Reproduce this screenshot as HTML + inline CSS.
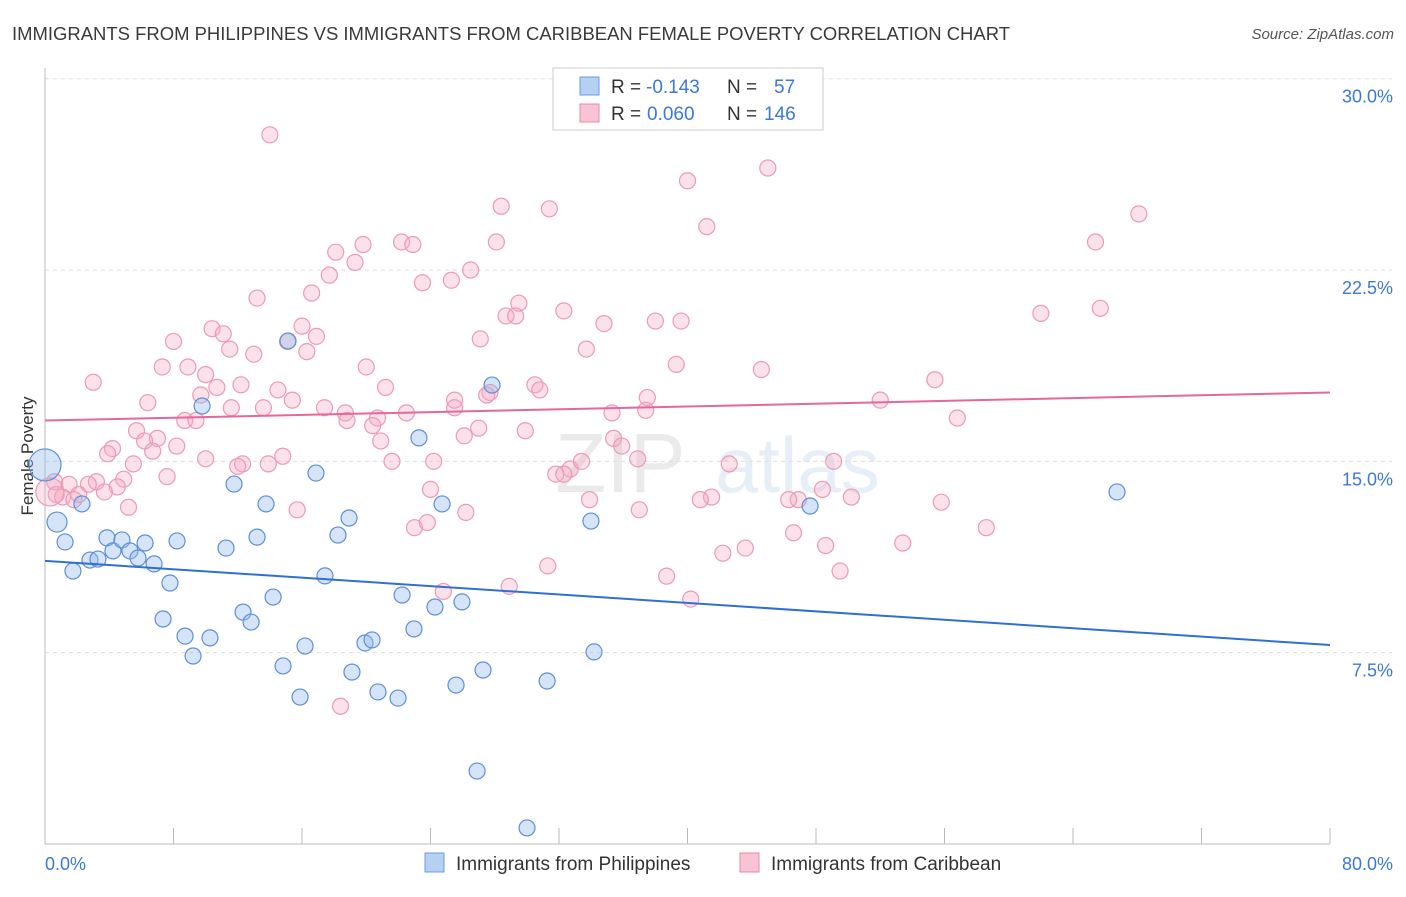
<!DOCTYPE html>
<html><head><meta charset="utf-8">
<style>
body{margin:0;background:#fff;font-family:"Liberation Sans",sans-serif;}
svg text{font-family:"Liberation Sans",sans-serif;}
</style></head>
<body>
<svg id="chart" width="1406" height="892" xmlns="http://www.w3.org/2000/svg">
<text x="12" y="40" font-size="18.5" fill="#3a3a3a" textLength="998" lengthAdjust="spacingAndGlyphs">IMMIGRANTS FROM PHILIPPINES VS IMMIGRANTS FROM CARIBBEAN FEMALE POVERTY CORRELATION CHART</text>
<text x="1394" y="39" font-size="15" fill="#555" text-anchor="end" font-style="italic">Source: ZipAtlas.com</text>
<text transform="translate(33,456) rotate(-90)" font-size="17" fill="#333" text-anchor="middle">Female Poverty</text>
<g opacity="0.13">
<text x="555" y="492" font-size="84" font-family="Liberation Serif" fill="#666">ZIP</text>
<text x="715" y="492" font-size="78" fill="#4a7fd0">atlas</text>
</g>
<g id="grid"></g>
<g id="axes"></g>
<g id="pinkPts"></g>
<g id="bluePts"></g>
<g id="trends"></g>
<g>
<rect x="553" y="68" width="270" height="62" fill="#fff" stroke="#ccc"/>
<rect x="580" y="77" width="19" height="18" fill="#b6d0f2" stroke="#6a9be0"/>
<rect x="580" y="104" width="19" height="18" fill="#f8c4d4" stroke="#e98aa8"/>
<text x="611" y="93" font-size="19" fill="#333">R =</text>
<text x="646" y="93" font-size="19" fill="#3b78d8">-0.143</text>
<text x="727" y="93" font-size="19" fill="#333">N =</text>
<text x="774" y="93" font-size="19" fill="#3b78d8">57</text>
<text x="611" y="120" font-size="19" fill="#333">R =</text>
<text x="647" y="120" font-size="19" fill="#3b78d8">0.060</text>
<text x="727" y="120" font-size="19" fill="#333">N =</text>
<text x="764" y="120" font-size="19" fill="#3b78d8">146</text>
</g>
<g>
<rect x="425" y="853" width="19" height="19" fill="#b6d0f2" stroke="#6a9be0"/>
<text x="456" y="870" font-size="19" fill="#333">Immigrants from Philippines</text>
<rect x="740" y="853" width="19" height="19" fill="#f8c4d4" stroke="#e98aa8"/>
<text x="771" y="870" font-size="19" fill="#333">Immigrants from Caribbean</text>
</g>
</svg>
<script>
const yTicks=[7.5,15,22.5,30];
const yTickLabels=["7.5%","15.0%","22.5%","30.0%"];
const xTicks=[0,8,16,24,32,40,48,56,64,72,80];
const xEndLabels=["0.0%","80.0%"];
const blueX=[0,0.75,1.25,1.74,2.3,2.8,3.3,3.86,4.23,4.79,5.29,5.79,6.23,6.79,7.35,7.78,8.22,8.72,9.22,9.78,10.27,11.27,11.77,12.33,12.83,13.2,13.76,14.2,14.82,15.13,15.88,16.19,16.87,17.43,18.24,18.93,19.11,19.92,20.36,20.73,21.98,22.23,22.97,23.28,24.28,24.72,25.59,25.96,26.9,27.27,27.83,30.01,31.26,33.99,34.18,47.63,66.74];
const blueY=[14.86,12.62,11.84,10.7,13.33,11.13,11.17,12,11.49,11.92,11.49,11.21,11.8,10.98,8.82,10.23,11.88,8.15,7.37,17.17,8.08,11.6,14.11,9.09,8.7,12.03,13.33,9.68,6.98,19.72,5.76,7.76,14.54,10.51,12.11,12.78,6.74,7.88,8,5.96,5.72,9.76,8.43,15.92,9.29,13.33,6.23,9.49,2.86,6.82,17.99,0.63,6.39,12.66,7.53,13.25,13.8];
const pinkX=[14.0,45.0,40.0,28.4,31.4,68.1,41.2,65.4,28.1,19.8,22.2,22.9,18.1,19.3,26.5,17.7,23.5,25.3,16.6,13.2,29.5,28.7,29.3,32.3,62.0,65.7,34.8,38.0,39.6,16.0,10.4,11.1,16.9,8.0,27.1,15.1,11.5,16.3,13.0,33.7,7.3,20.0,39.3,44.6,8.9,10.0,3.0,55.4,12.2,21.2,30.5,10.7,14.5,30.8,9.7,27.7,27.5,15.4,52.0,37.5,25.5,6.4,25.5,13.6,11.6,35.3,37.4,17.4,18.7,22.5,18.8,20.7,8.7,9.4,20.4,27.0,56.8,5.7,29.9,7.0,6.2,20.9,26.1,35.4,35.9,8.2,4.2,3.9,6.7,10.0,14.8,13.9,12.3,21.6,24.2,36.9,42.6,49.1,5.5,12.0,32.7,31.8,33.4,7.6,3.2,0.6,1.5,2.7,4.9,4.5,3.7,0.7,2.1,1.1,1.8,24.0,41.5,40.8,46.9,50.2,48.4,46.3,55.8,33.9,5.2,15.7,26.2,37.0,23.0,23.8,46.6,58.6,53.4,43.6,42.2,48.6,31.3,49.5,38.7,28.9,24.8,40.2,18.4,32.3,0.3];
const pinkY=[27.8,26.5,26.0,25.0,24.9,24.7,24.2,23.6,23.6,23.5,23.6,23.5,23.2,22.8,22.5,22.3,22.0,22.1,21.6,21.4,21.2,20.7,20.7,20.9,20.8,21.0,20.4,20.5,20.5,20.3,20.2,20.0,19.9,19.7,19.8,19.7,19.4,19.3,19.2,19.4,18.7,18.7,18.8,18.6,18.7,18.4,18.1,18.2,18.0,17.9,18.0,17.9,17.8,17.8,17.6,17.7,17.6,17.4,17.4,17.5,17.4,17.3,17.1,17.1,17.1,16.9,17.0,17.1,16.9,16.9,16.6,16.7,16.6,16.6,16.4,16.3,16.7,16.2,16.2,15.9,15.8,15.8,16.0,15.9,15.6,15.6,15.5,15.3,15.4,15.1,15.2,14.9,14.9,15.0,15.0,15.1,14.9,15.0,14.9,14.8,14.7,14.5,15.0,14.4,14.2,14.2,14.1,14.1,14.3,14.0,13.8,13.7,13.7,13.6,13.5,13.9,13.6,13.5,13.5,13.6,13.9,13.5,13.4,13.5,13.2,13.1,13.0,13.1,12.4,12.6,12.2,12.4,11.8,11.6,11.4,11.7,10.9,10.7,10.5,10.1,9.9,9.6,5.4,14.5,13.8];
const blueTrend=[11.1,7.8];
const pinkTrend=[16.6,17.7];
const NS="http://www.w3.org/2000/svg";
const X0=45,X1=1330,Y0=844,PX=25.51;
function sx(v){return X0+(v/80)*(X1-X0);}
function sy(v){return Y0-v*PX;}
function mk(tag,attrs,parent){const e=document.createElementNS(NS,tag);for(const k in attrs)e.setAttribute(k,attrs[k]);parent.appendChild(e);return e;}
const grid=document.getElementById('grid'),axes=document.getElementById('axes');
yTicks.forEach((t,i)=>{
 const l=mk('line',{x1:X0,x2:1392,y1:sy(t),y2:sy(t),stroke:'#ddd','stroke-dasharray':'4,4'},grid);
 
 
 const tx=mk('text',{x:1393,y:sy(t)+24,'font-size':18,fill:'#3b78d8','text-anchor':'end'},axes);
 tx.textContent=yTickLabels[i];
 
 
});
const ax=mk('line',{x1:X0,x2:X0,y1:68,y2:Y0,stroke:'#bbb'},axes);


const bx=mk('line',{x1:X0,x2:X1,y1:Y0,y2:Y0,stroke:'#bbb'},axes);


xTicks.forEach(t=>{
 const l=mk('line',{x1:sx(t),x2:sx(t),y1:Y0-16,y2:Y0,stroke:'#bbb'},axes);
 
 
});
const xl0=mk('text',{x:45,y:870,'font-size':18,fill:'#3b78d8'},axes);xl0.textContent=xEndLabels[0];


const xl1=mk('text',{x:1393,y:870,'font-size':18,fill:'#3b78d8','text-anchor':'end'},axes);xl1.textContent=xEndLabels[1];


const pg=document.getElementById('pinkPts');
pinkX.forEach((v,i)=>{
 const c=mk('circle',{cx:sx(v),cy:sy(pinkY[i]),r:(i===pinkX.length-1?14:8),fill:'rgba(244,170,195,0.35)',stroke:'#ec9ab4','stroke-width':1.2},pg);
 
 
});
const bg=document.getElementById('bluePts');
blueX.forEach((v,i)=>{
 const c=mk('circle',{cx:sx(v),cy:sy(blueY[i]),r:(i===0?16:(i===1?10:8)),fill:'rgba(150,188,236,0.4)',stroke:'#5d8fd8','stroke-width':1.2},bg);
 
 
});
const tg=document.getElementById('trends');
const bt=mk('line',{x1:sx(0),y1:sy(blueTrend[0]),x2:sx(80),y2:sy(blueTrend[1]),stroke:'#2f6fd6','stroke-width':2},tg);


const pt=mk('line',{x1:sx(0),y1:sy(pinkTrend[0]),x2:sx(80),y2:sy(pinkTrend[1]),stroke:'#e6679a','stroke-width':2},tg);


</script>
</body></html>
